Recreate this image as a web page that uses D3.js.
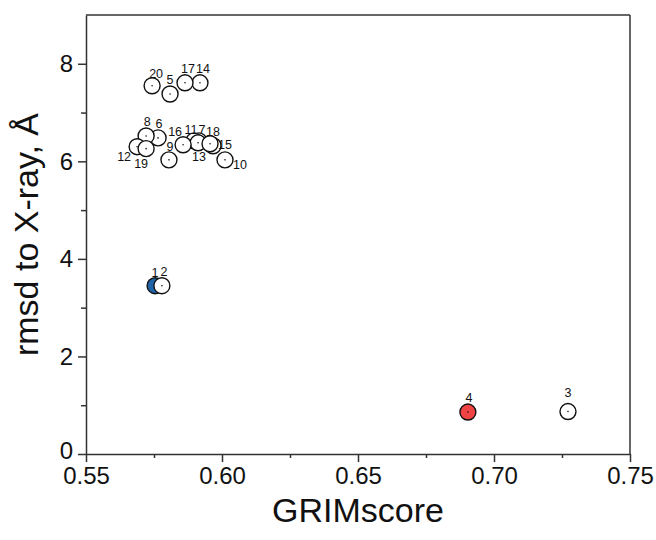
<!DOCTYPE html>
<html>
<head>
<meta charset="utf-8">
<script src="https://cdn.jsdelivr.net/npm/d3@7"></script>
<style>
  body { margin: 0; background: #fff; }
  text { font-family: "Liberation Sans", Arial, sans-serif; }
</style>
</head>
<body>
<div id="chart"></div>
<script>
// Structure ids and their values
var ids = [1, 2, 3, 4, 5, 6, 7, 8, 9, 10, 11, 12, 13, 14, 15, 16, 17, 18, 19, 20];
var grimScore = [0.5754, 0.5779, 0.7272, 0.6904, 0.5809, 0.5765, 0.5915, 0.5721, 0.5805, 0.6011,
                 0.5897, 0.5688, 0.5912, 0.5919, 0.5967, 0.5857, 0.5864, 0.5956, 0.5721, 0.5743];
var rmsd = [3.45, 3.45, 0.87, 0.86, 7.38, 6.48, 6.42, 6.52, 6.03, 6.03,
            6.42, 6.30, 6.38, 7.61, 6.32, 6.34, 7.61, 6.36, 6.26, 7.55];
var xTicks = [0.55, 0.60, 0.65, 0.70, 0.75];
var yTicks = [0, 2, 4, 6, 8];

// fill colours for the highlighted points
var fills = {1: "#1f64a6", 4: "#f04343"};

// label nudges (px from the circle centre) so they sit like in the original
var labelOffset = {
  1: [0, -9], 2: [2, -10], 3: [0, -15], 4: [1, -10], 5: [0, -10],
  6: [1, -10], 7: [3, -7], 8: [1, -10], 9: [1, -9], 10: [15, 9],
  11: [-3, -7], 12: [-13, 14], 13: [1, 18], 14: [3, -10], 15: [12, 3],
  16: [-8, -9], 17: [3, -10], 18: [3, -8], 19: [-5, 19], 20: [4, -8]
};

var data = ids.map(function(id, i) {
  return {id: id, x: grimScore[i], y: rmsd[i]};
});

var width = 656, height = 540;
var margin = {top: 15, right: 26, bottom: 86, left: 86};
var w = width - margin.left - margin.right,
    h = height - margin.top - margin.bottom;
var ink = "#333";

var x = d3.scaleLinear().domain([0.55, 0.75]).range([0, w]);
var y = d3.scaleLinear().domain([0, 9]).range([h, 0]);

var svg = d3.select("#chart").append("svg")
    .attr("width", width)
    .attr("height", height);

var g = svg.append("g")
    .attr("transform", "translate(" + margin.left + "," + margin.top + ")");

// frame (top and right)
g.append("line").attr("x1", 0).attr("x2", w).attr("y1", 0).attr("y2", 0)
    .attr("stroke", ink).attr("stroke-width", 1.5);
g.append("line").attr("x1", w).attr("x2", w).attr("y1", 0).attr("y2", h)
    .attr("stroke", ink).attr("stroke-width", 1.5);

// minor ticks
var xMinor = g.append("g")
    .attr("transform", "translate(0," + h + ")")
    .call(d3.axisBottom(x).tickValues([0.575, 0.625, 0.675, 0.725]).tickSize(4).tickFormat(""));
var yMinor = g.append("g")
    .call(d3.axisLeft(y).tickValues([1, 3, 5, 7]).tickSize(5).tickFormat(""));

// major axes
var xAxis = g.append("g")
    .attr("transform", "translate(0," + h + ")")
    .call(d3.axisBottom(x).tickValues(xTicks).tickSize(8).tickSizeOuter(0).tickPadding(5)
      .tickFormat(d3.format(".2f")));
var yAxis = g.append("g")
    .call(d3.axisLeft(y).tickValues(yTicks).tickSize(8).tickSizeOuter(0).tickPadding(5));

[xMinor, yMinor, xAxis, yAxis].forEach(function(a) {
  a.select(".domain").attr("stroke", ink).attr("stroke-width", 1.5);
  a.selectAll(".tick line").attr("stroke", ink).attr("stroke-width", 1.5);
  a.selectAll("text").attr("fill", "#111").style("font-size", "24px")
    .style("font-family", "'Liberation Sans', Arial, sans-serif");
});
xMinor.select(".domain").remove();
yMinor.select(".domain").remove();
// lift the "0" a touch so it clears "0.55"
yAxis.selectAll(".tick text").filter(function(d) { return d === 0; }).attr("dy", "0.2em");

// points
var pts = g.selectAll(".pt")
    .data(data)
    .enter().append("g")
    .attr("class", "pt")
    .attr("transform", function(d) { return "translate(" + x(d.x) + "," + y(d.y) + ")"; });

pts.append("circle")
    .attr("r", 8)
    .attr("fill", function(d) { return fills[d.id] || "#fff"; })
    .attr("stroke", "#111")
    .attr("stroke-width", 1.4);

pts.append("circle")
    .attr("r", 0.8)
    .attr("fill", "#111");

// labels on top
g.selectAll(".lbl")
    .data(data)
    .enter().append("text")
    .attr("class", "lbl")
    .attr("x", function(d) { return x(d.x) + labelOffset[d.id][0]; })
    .attr("y", function(d) { return y(d.y) + labelOffset[d.id][1]; })
    .attr("text-anchor", "middle")
    .style("font-size", "12.5px")
    .attr("fill", "#111")
    .text(function(d) { return d.id; });

// axis titles
svg.append("text")
    .attr("x", margin.left + w / 2)
    .attr("y", 522)
    .attr("text-anchor", "middle")
    .style("font-size", "34px")
    .attr("fill", "#111")
    .text("GRIMscore");

svg.append("text")
    .attr("transform", "translate(38," + (margin.top + h / 2) + ") rotate(-90)")
    .attr("text-anchor", "middle")
    .style("font-size", "34px")
    .attr("fill", "#111")
    .text("rmsd to X-ray, Å");
</script>
</body>
</html>
